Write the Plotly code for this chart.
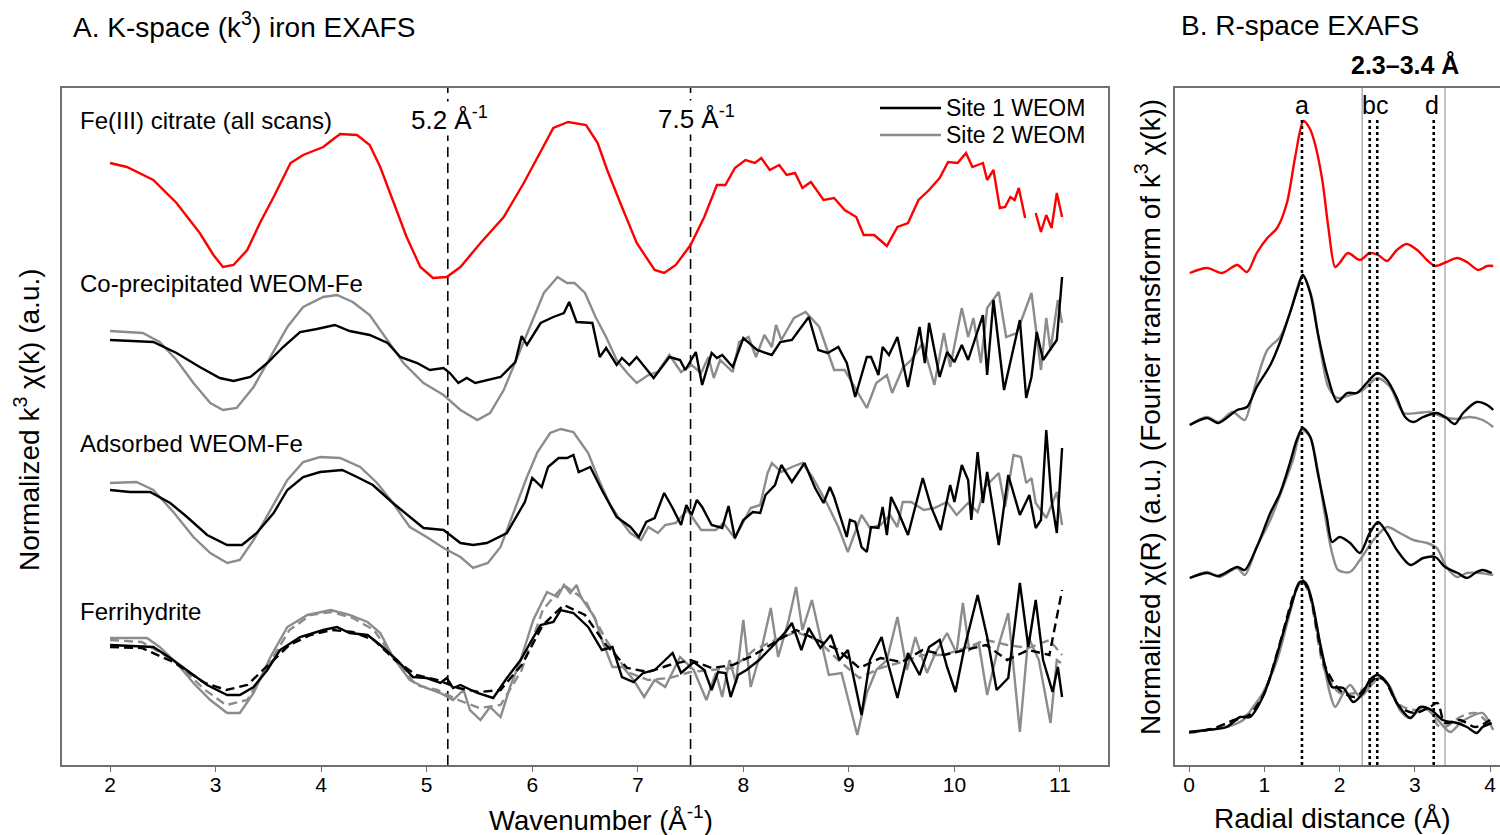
import plotly.graph_objects as go

W, H = 1500, 835
FONT = "Liberation Sans, Arial, sans-serif"

# ---------------- data ----------------
K_TICKS = [2, 3, 4, 5, 6, 7, 8, 9, 10, 11]
R_TICKS = [0, 1, 2, 3, 4]
K_MARKERS = [5.2, 7.5]
K_MARKER_LABELS = ["5.2 Å<sup>-1</sup>", "7.5 Å<sup>-1</sup>"]
R_WINDOW = [2.3, 3.4]
R_PEAKS = [1.5, 2.4, 2.5, 3.25]
R_PEAK_LABELS = ["a", "bc", "d"]
LEGEND_NAMES = ["Site 1 WEOM", "Site 2 WEOM"]

# vertical stacking offsets (a.u.)
OFF_CIT, OFF_COP, OFF_ADS, OFF_FER = 4.80, 3.25, 1.65, 0.0

# --- K-space: Fe(III) citrate ---
cit_k = [2.00, 2.16, 2.41, 2.63, 2.85, 2.98, 3.07, 3.17, 3.30, 3.42, 3.55, 3.71, 3.83, 4.02, 4.08, 4.18, 4.34, 4.46,
         4.56, 4.68, 4.81, 4.94, 5.06, 5.19, 5.32, 5.51, 5.73, 5.92, 6.05, 6.20, 6.34, 6.51, 6.62, 6.71, 6.85, 6.99,
         7.16, 7.25, 7.36, 7.50, 7.63, 7.75, 7.83, 7.92, 8.02, 8.11, 8.17, 8.25, 8.34, 8.41, 8.49, 8.56, 8.64, 8.76,
         8.86, 8.96, 9.07, 9.14, 9.24, 9.36, 9.46, 9.56, 9.66, 9.76, 9.86, 9.94, 10.03, 10.11, 10.17, 10.27, 10.31,
         10.37, 10.43, 10.48, 10.53, 10.57, 10.61, 10.67, None, 10.77, 10.82, 10.87, 10.92, 10.97, 11.02]
cit_chi = [1.22, 1.18, 1.05, 0.82, 0.52, 0.30, 0.18, 0.20, 0.35, 0.62, 0.88, 1.22, 1.30, 1.38, 1.43, 1.51, 1.50, 1.40,
           1.18, 0.85, 0.48, 0.18, 0.07, 0.08, 0.18, 0.42, 0.68, 1.02, 1.28, 1.57, 1.63, 1.60, 1.42, 1.15, 0.78, 0.42,
           0.15, 0.12, 0.20, 0.40, 0.68, 1.00, 1.00, 1.17, 1.25, 1.22, 1.27, 1.15, 1.20, 1.10, 1.12, 0.97, 1.03, 0.85,
           0.87, 0.75, 0.68, 0.50, 0.50, 0.39, 0.58, 0.62, 0.85, 0.95, 1.07, 1.23, 1.22, 1.32, 1.18, 1.22, 1.05,
           1.15, 0.77, 0.78, 0.88, 0.85, 0.97, 0.67, None, 0.72, 0.53, 0.70, 0.57, 0.92, 0.68]

# --- K-space: co-precipitated ---
cop1_k = [2.00, 2.41, 2.63, 2.85, 3.04, 3.17, 3.33, 3.49, 3.64, 3.80, 3.96, 4.13, 4.27, 4.46, 4.63, 4.75, 4.91, 5.03,
          5.16, 5.22, 5.30, 5.38, 5.46, 5.57, 5.70, 5.84, 5.90, 5.95, 6.08, 6.20, 6.30, 6.35, 6.42, 6.57, 6.64, 6.70,
          6.80, 6.85, 6.92, 6.99, 7.15, 7.30, 7.40, 7.45, 7.55, 7.61, 7.70, 7.75, 7.80, 7.90, 8.00, 8.13, 8.27, 8.35,
          8.46, 8.62, 8.71, 8.80, 8.90, 8.98, 9.06, 9.17, 9.21, 9.28, 9.32, 9.38, 9.46, 9.56, 9.67, 9.72, 9.76, 9.86,
          9.93, 10.00, 10.07, 10.13, 10.22, 10.27, 10.31, 10.37, 10.47, 10.62, 10.68, 10.73, 10.78, 10.84, 10.97, 11.02]
cop1_chi = [1.00, 0.98, 0.87, 0.73, 0.62, 0.59, 0.63, 0.77, 0.93, 1.08, 1.11, 1.15, 1.09, 1.05, 0.97, 0.83, 0.77, 0.70,
            0.72, 0.67, 0.57, 0.62, 0.57, 0.60, 0.63, 0.78, 1.04, 0.95, 1.17, 1.23, 1.27, 1.38, 1.18, 1.17, 0.83, 0.92,
            0.75, 0.82, 0.75, 0.83, 0.62, 0.83, 0.80, 0.70, 0.88, 0.55, 0.87, 0.82, 0.85, 0.73, 1.02, 0.90, 0.85, 0.98,
            1.00, 1.23, 0.90, 0.87, 0.93, 0.77, 0.43, 0.83, 0.83, 0.65, 0.93, 0.85, 1.03, 0.53, 1.13, 0.77, 1.17, 0.63,
            0.88, 0.78, 0.95, 0.80, 1.10, 1.25, 0.65, 1.40, 0.50, 1.20, 0.42, 0.63, 1.08, 0.80, 1.00, 1.63]
cop2_k = [2.00, 2.31, 2.47, 2.63, 2.79, 2.95, 3.07, 3.20, 3.36, 3.52, 3.68, 3.83, 4.02, 4.15, 4.30, 4.46, 4.63, 4.78,
          4.97, 5.16, 5.32, 5.48, 5.60, 5.73, 5.86, 5.98, 6.11, 6.24, 6.33, 6.40, 6.50, 6.60, 6.70, 6.80, 6.90, 6.99,
          7.10, 7.19, 7.30, 7.41, 7.51, 7.60, 7.67, 7.72, 7.78, 7.90, 7.96, 8.05, 8.12, 8.20, 8.27, 8.31, 8.36, 8.48,
          8.59, 8.72, 8.86, 8.96, 9.06, 9.17, 9.26, 9.36, 9.41, 9.51, 9.59, 9.70, 9.81, 9.90, 9.96, 10.07, 10.13,
          10.18, 10.25, 10.31, 10.42, 10.49, 10.59, 10.73, 10.82, 10.87, 10.91, 10.98, 11.02]
cop2_chi = [1.09, 1.07, 0.98, 0.80, 0.57, 0.37, 0.30, 0.32, 0.53, 0.83, 1.13, 1.33, 1.43, 1.45, 1.38, 1.25, 1.00, 0.77,
            0.57, 0.45, 0.30, 0.20, 0.27, 0.50, 0.83, 1.13, 1.47, 1.63, 1.57, 1.57, 1.47, 1.23, 1.03, 0.80, 0.67, 0.57,
            0.65, 0.68, 0.85, 0.68, 0.75, 0.67, 0.83, 0.62, 0.80, 0.68, 0.98, 1.03, 0.83, 1.05, 0.93, 1.15, 1.00, 1.22,
            1.28, 1.13, 0.70, 0.70, 0.52, 0.32, 0.57, 0.65, 0.47, 0.72, 0.80, 0.97, 0.55, 1.07, 0.73, 1.32, 1.03,
            1.22, 0.77, 1.32, 1.48, 1.03, 1.07, 1.47, 0.70, 1.22, 0.90, 1.40, 1.17]

# --- K-space: adsorbed ---
ads1_k = [2.00, 2.19, 2.38, 2.57, 2.73, 2.92, 3.11, 3.25, 3.39, 3.55, 3.68, 3.83, 3.99, 4.20, 4.34, 4.49, 4.68, 4.84,
          4.97, 5.16, 5.32, 5.44, 5.57, 5.76, 5.93, 6.00, 6.09, 6.15, 6.25, 6.33, 6.39, 6.44, 6.55, 6.66, 6.80, 6.93,
          7.01, 7.08, 7.16, 7.25, 7.33, 7.41, 7.46, 7.51, 7.56, 7.61, 7.70, 7.80, 7.86, 7.92, 8.00, 8.09, 8.16, 8.21,
          8.30, 8.36, 8.46, 8.58, 8.68, 8.76, 8.82, 8.86, 8.98, 9.01, 9.06, 9.12, 9.17, 9.21, 9.28, 9.32, 9.36, 9.40,
          9.46, 9.56, 9.70, 9.78, 9.87, 9.96, 10.00, 10.07, 10.13, 10.16, 10.22, 10.27, 10.31, 10.42, 10.51, 10.62,
          10.71, 10.77, 10.82, 10.87, 10.92, 10.97, 11.02]
ads1_chi = [1.10, 1.08, 1.08, 0.97, 0.83, 0.65, 0.55, 0.55, 0.67, 0.87, 1.10, 1.23, 1.28, 1.30, 1.23, 1.15, 0.97, 0.83,
            0.72, 0.70, 0.57, 0.55, 0.57, 0.67, 0.98, 1.22, 1.13, 1.33, 1.42, 1.42, 1.45, 1.28, 1.33, 1.10, 0.83, 0.73,
            0.63, 0.78, 0.82, 1.07, 0.92, 0.75, 0.95, 0.85, 1.00, 0.93, 0.75, 0.72, 0.94, 0.62, 0.80, 0.88, 0.87, 1.05,
            1.15, 1.35, 1.18, 1.37, 1.12, 0.97, 1.13, 1.03, 0.63, 0.80, 0.78, 0.53, 0.48, 0.73, 0.72, 0.93, 0.65, 1.03,
            0.90, 0.65, 1.22, 0.93, 0.70, 1.15, 0.98, 1.35, 1.20, 0.80, 1.48, 0.97, 1.28, 0.55, 1.25, 0.85,
            1.05, 0.72, 0.80, 1.70, 1.00, 0.67, 1.52]
ads2_k = [2.00, 2.25, 2.41, 2.60, 2.79, 2.95, 3.11, 3.23, 3.36, 3.52, 3.68, 3.83, 3.99, 4.18, 4.37, 4.53, 4.68, 4.84,
          5.00, 5.16, 5.32, 5.44, 5.58, 5.70, 5.82, 5.95, 6.05, 6.17, 6.27, 6.39, 6.53, 6.64, 6.73, 6.82, 6.93, 7.03,
          7.10, 7.19, 7.26, 7.36, 7.47, 7.60, 7.74, 7.81, 7.92, 8.07, 8.16, 8.23, 8.27, 8.36, 8.46, 8.56, 8.66, 8.80,
          8.90, 8.99, 9.12, 9.20, 9.30, 9.39, 9.46, 9.51, 9.59, 9.71, 9.81, 9.93, 10.02, 10.13, 10.22, 10.29, 10.42,
          10.48, 10.56, 10.63, 10.68, 10.73, 10.77, 10.87, 10.97, 11.02]
ads2_chi = [1.17, 1.18, 1.10, 0.88, 0.63, 0.47, 0.37, 0.40, 0.60, 0.90, 1.20, 1.38, 1.43, 1.42, 1.33, 1.17, 0.97, 0.73,
            0.63, 0.52, 0.43, 0.32, 0.37, 0.53, 0.87, 1.23, 1.48, 1.67, 1.71, 1.68, 1.47, 1.18, 0.97, 0.82, 0.67, 0.60,
            0.73, 0.67, 0.75, 0.77, 0.90, 0.70, 0.70, 0.77, 0.62, 0.92, 0.95, 1.27, 1.37, 1.28, 1.33, 1.37, 1.22, 0.95,
            0.73, 0.48, 0.85, 0.72, 0.75, 0.85, 0.73, 0.98, 0.98, 0.90, 0.92, 0.98, 0.85, 0.97, 0.88, 1.13, 1.27,
            0.93, 1.45, 1.43, 1.17, 1.22, 0.97, 0.82, 1.08, 0.75]

# --- K-space: ferrihydrite (solid = scans set 1, dashed = scans set 2) ---
fer1_k = [2.00, 2.16, 2.41, 2.57, 2.73, 2.92, 3.11, 3.23, 3.36, 3.49, 3.61, 3.80, 4.02, 4.15, 4.27, 4.44, 4.56, 4.72,
          4.87, 5.00, 5.13, 5.19, 5.25, 5.32, 5.48, 5.63, 5.76, 5.89, 5.98, 6.08, 6.20, 6.27, 6.39, 6.53, 6.66, 6.76,
          6.85, 6.96, 7.05, 7.16, 7.26, 7.33, 7.41, 7.53, 7.63, 7.70, 7.76, 7.83, 7.88, 7.95, 8.03, 8.15, 8.27, 8.40,
          8.46, 8.55, 8.62, 8.73, 8.83, 8.91, 8.99, 9.12, 9.20, 9.31, 9.38, 9.46, 9.56, 9.67, 9.76, 9.86, 9.93, 10.01,
          10.09, 10.22, 10.31, 10.40, 10.51, 10.62, 10.70, 10.77, 10.84, 10.93, 10.98, 11.02]
fer1_chi = [1.20, 1.19, 1.18, 1.07, 0.95, 0.80, 0.70, 0.70, 0.78, 0.95, 1.15, 1.28, 1.35, 1.38, 1.32, 1.30, 1.20, 1.05,
            0.88, 0.87, 0.82, 0.87, 0.77, 0.80, 0.72, 0.67, 0.87, 1.05, 1.22, 1.40, 1.43, 1.55, 1.52, 1.38, 1.15, 1.18,
            0.88, 0.83, 0.92, 0.95, 1.05, 1.12, 0.92, 1.03, 0.95, 0.75, 0.93, 0.92, 0.68, 0.90, 0.95, 1.05, 1.18, 1.33,
            1.42, 1.15, 1.37, 1.17, 1.30, 1.05, 1.15, 0.50, 1.05, 1.28, 0.98, 0.67, 1.12, 0.90, 1.18, 1.25, 0.98, 0.73,
            1.15, 1.70, 1.28, 0.75, 0.87, 1.82, 1.18, 1.65, 1.05, 0.73, 0.98, 0.68]
fer2_k = [2.00, 2.35, 2.47, 2.63, 2.79, 2.95, 3.11, 3.23, 3.36, 3.52, 3.68, 3.87, 4.09, 4.27, 4.44, 4.56, 4.68, 4.84,
          4.97, 5.13, 5.25, 5.35, 5.41, 5.51, 5.60, 5.70, 5.79, 5.89, 6.01, 6.14, 6.24, 6.30, 6.36, 6.42, 6.46, 6.59,
          6.66, 6.76, 6.86, 6.96, 7.06, 7.16, 7.26, 7.40, 7.53, 7.65, 7.74, 7.80, 7.87, 7.93, 8.00, 8.07, 8.17, 8.26,
          8.33, 8.43, 8.50, 8.56, 8.65, 8.73, 8.81, 8.93, 9.08, 9.17, 9.26, 9.36, 9.46, 9.55, 9.63, 9.74, 9.82, 9.93,
          10.02, 10.08, 10.14, 10.23, 10.31, 10.42, 10.51, 10.62, 10.70, 10.80, 10.91, 10.97, 11.01]
fer2_chi = [1.27, 1.27, 1.18, 1.02, 0.82, 0.65, 0.52, 0.52, 0.72, 1.08, 1.38, 1.50, 1.55, 1.50, 1.43, 1.32, 1.08, 0.85,
            0.78, 0.72, 0.65, 0.75, 0.55, 0.45, 0.58, 0.48, 0.78, 1.05, 1.45, 1.73, 1.68, 1.80, 1.72, 1.80, 1.68, 1.48,
            1.25, 0.98, 0.98, 0.85, 0.68, 0.85, 0.78, 1.08, 0.95, 0.65, 0.92, 0.68, 1.05, 0.82, 1.45, 0.78, 1.15, 1.57,
            1.08, 1.45, 1.78, 1.35, 1.65, 1.28, 0.90, 0.92, 0.30, 0.72, 0.95, 1.05, 1.48, 0.95, 1.28, 0.92, 1.12, 1.32,
            1.12, 1.62, 1.15, 1.22, 0.70, 1.20, 1.52, 0.33, 1.28, 1.05, 0.42, 1.05, 1.02]
ferd_k = [2.0, 2.3, 2.6, 2.9, 3.1, 3.3, 3.5, 3.7, 3.9, 4.1, 4.3, 4.5, 4.7, 4.9, 5.1, 5.3, 5.5, 5.7, 5.9, 6.1, 6.3, 6.5,
          6.7, 6.9, 7.1, 7.3, 7.5, 7.7, 7.9, 8.1, 8.3, 8.5, 8.7, 8.9, 9.1, 9.3, 9.5, 9.7, 9.9, 10.1, 10.3, 10.5, 10.7,
          10.9, 11.02]
ferd1_chi = [1.18, 1.17, 1.03, 0.82, 0.75, 0.80, 1.00, 1.20, 1.30, 1.35, 1.33, 1.25, 1.05, 0.90, 0.85, 0.77, 0.73, 0.75,
             1.00, 1.40, 1.60, 1.50, 1.20, 0.97, 0.93, 1.00, 1.05, 0.97, 1.00, 1.10, 1.23, 1.35, 1.25, 1.15, 0.97, 1.07,
             1.03, 1.15, 1.10, 1.15, 1.20, 1.05, 1.15, 1.10, 1.75]
ferd2_chi = [1.25, 1.23, 1.05, 0.75, 0.60, 0.65, 1.00, 1.35, 1.50, 1.53, 1.47, 1.35, 1.05, 0.80, 0.75, 0.65, 0.57, 0.60,
             0.95, 1.55, 1.80, 1.65, 1.25, 0.93, 0.85, 0.87, 0.93, 0.95, 0.97, 1.15, 1.25, 1.33, 1.25, 1.05, 0.87, 0.97,
             1.03, 1.10, 1.10, 1.17, 1.25, 1.20, 1.17, 1.25, 1.10]

# --- R-space ---
cit_r = [0.01, 0.24, 0.44, 0.64, 0.77, 0.90, 1.04, 1.17, 1.30, 1.41, 1.52, 1.60, 1.67, 1.77, 1.85, 1.94, 2.00, 2.11,
         2.27, 2.40, 2.51, 2.63, 2.76, 2.89, 3.03, 3.16, 3.27, 3.42, 3.56, 3.69, 3.84, 3.96, 4.04]
cit_ft = [0.12, 0.17, 0.12, 0.20, 0.13, 0.32, 0.47, 0.57, 0.82, 1.28, 1.64, 1.57, 1.42, 1.05, 0.58, 0.18, 0.22, 0.32,
          0.25, 0.32, 0.30, 0.24, 0.35, 0.41, 0.35, 0.25, 0.19, 0.23, 0.27, 0.23, 0.15, 0.19, 0.19]
cop1_r = [0.01, 0.24, 0.39, 0.64, 0.77, 0.90, 1.08, 1.21, 1.34, 1.45, 1.51, 1.61, 1.71, 1.83, 1.97, 2.10, 2.23, 2.36,
          2.50, 2.63, 2.76, 2.87, 2.98, 3.11, 3.29, 3.42, 3.53, 3.64, 3.82, 3.96, 4.04]
cop1_ft = [0.15, 0.22, 0.17, 0.30, 0.33, 0.53, 0.75, 0.98, 1.27, 1.53, 1.65, 1.47, 1.07, 0.67, 0.38, 0.47, 0.47, 0.57,
           0.67, 0.60, 0.42, 0.23, 0.18, 0.23, 0.27, 0.22, 0.16, 0.27, 0.38, 0.35, 0.30]
cop2_r = [0.01, 0.24, 0.39, 0.58, 0.74, 0.85, 1.04, 1.21, 1.34, 1.45, 1.51, 1.63, 1.74, 1.85, 1.97, 2.14, 2.31, 2.50,
          2.67, 2.85, 3.03, 3.20, 3.37, 3.56, 3.73, 3.90, 4.04]
cop2_ft = [0.15, 0.23, 0.18, 0.28, 0.20, 0.47, 0.90, 1.03, 1.27, 1.55, 1.65, 1.43, 0.93, 0.53, 0.42, 0.45, 0.50, 0.62,
           0.53, 0.27, 0.27, 0.28, 0.23, 0.21, 0.23, 0.20, 0.13]
ads1_r = [0.01, 0.24, 0.39, 0.64, 0.74, 0.90, 1.08, 1.21, 1.34, 1.43, 1.51, 1.61, 1.71, 1.83, 1.90, 2.00, 2.14, 2.27,
          2.40, 2.51, 2.63, 2.76, 2.94, 3.11, 3.27, 3.40, 3.57, 3.69, 3.82, 3.90, 4.02]
ads1_ft = [0.22, 0.27, 0.24, 0.33, 0.30, 0.53, 0.87, 1.07, 1.37, 1.60, 1.72, 1.63, 1.27, 0.83, 0.58, 0.63, 0.57, 0.47,
           0.67, 0.78, 0.67, 0.50, 0.35, 0.42, 0.43, 0.33, 0.27, 0.22, 0.28, 0.30, 0.27]
ads2_r = [0.01, 0.24, 0.41, 0.64, 0.74, 0.90, 1.08, 1.25, 1.38, 1.50, 1.61, 1.71, 1.80, 1.90, 1.98, 2.14, 2.27, 2.45,
          2.63, 2.80, 2.98, 3.16, 3.29, 3.42, 3.56, 3.69, 3.86, 4.04]
ads2_ft = [0.22, 0.28, 0.23, 0.32, 0.25, 0.53, 0.80, 1.13, 1.40, 1.70, 1.63, 1.30, 0.87, 0.47, 0.30, 0.28, 0.40, 0.60,
           0.73, 0.67, 0.60, 0.57, 0.52, 0.33, 0.23, 0.27, 0.27, 0.25]
fer1_r = [0.01, 0.24, 0.50, 0.68, 0.81, 0.98, 1.12, 1.25, 1.38, 1.47, 1.54, 1.63, 1.74, 1.83, 1.90, 2.05, 2.18, 2.31,
          2.40, 2.51, 2.63, 2.76, 2.94, 3.07, 3.22, 3.37, 3.56, 3.69, 3.82, 3.90, 4.02]
fer1_ft = [0.33, 0.35, 0.38, 0.48, 0.48, 0.68, 0.98, 1.32, 1.65, 1.83, 1.83, 1.65, 1.22, 0.92, 0.78, 0.77, 0.63, 0.72,
           0.85, 0.90, 0.82, 0.62, 0.47, 0.58, 0.55, 0.45, 0.42, 0.38, 0.32, 0.38, 0.42]
fer2_r = [0.01, 0.24, 0.45, 0.72, 0.85, 0.98, 1.17, 1.34, 1.47, 1.57, 1.67, 1.78, 1.87, 1.94, 2.05, 2.14, 2.27, 2.40,
          2.54, 2.67, 2.80, 2.93, 3.11, 3.27, 3.47, 3.60, 3.73, 3.90, 4.04]
fer2_ft = [0.32, 0.35, 0.37, 0.45, 0.58, 0.72, 1.05, 1.52, 1.83, 1.80, 1.48, 1.05, 0.72, 0.58, 0.72, 0.80, 0.68, 0.78,
           0.88, 0.78, 0.55, 0.47, 0.58, 0.48, 0.33, 0.42, 0.48, 0.52, 0.35]
ferd_r = [0.0, 0.3, 0.6, 0.8, 1.0, 1.2, 1.4, 1.5, 1.6, 1.8, 2.0, 2.2, 2.4, 2.5, 2.6, 2.8, 3.0, 3.2, 3.3, 3.4, 3.6, 3.8,
          4.0]
ferd1_ft = [0.33, 0.36, 0.45, 0.50, 0.72, 1.20, 1.72, 1.85, 1.72, 1.00, 0.75, 0.68, 0.82, 0.88, 0.84, 0.58, 0.52, 0.58,
            0.62, 0.42, 0.45, 0.38, 0.45]
ferd2_ft = [0.32, 0.36, 0.44, 0.52, 0.72, 1.18, 1.70, 1.84, 1.70, 0.95, 0.72, 0.72, 0.80, 0.86, 0.84, 0.60, 0.55, 0.55,
            0.40, 0.38, 0.48, 0.52, 0.40]

# ---------------- styling ----------------
RED = "#ff0000"
BLACK = "#000000"
GRAY = "#8c8c8c"
LW = 2.4
DASH = "9px,5px"


def shift(vals, off):
    return [None if v is None else v + off for v in vals]


def px(x):
    return x / W


def py(y):
    return 1 - y / H


fig = go.Figure()


def add(x, y, off, color, axis, dash="solid", smooth=False):
    fig.add_trace(go.Scatter(
        x=x, y=shift(y, off), mode="lines",
        line=dict(color=color, width=LW, dash=dash, shape="spline" if smooth else "linear",
                  smoothing=0.8 if smooth else None),
        xaxis="x" if axis == 1 else "x2", yaxis="y" if axis == 1 else "y2",
        showlegend=False, hoverinfo="skip"))


# K-space traces
add(cit_k, cit_chi, OFF_CIT, RED, 1)
add(cop2_k, cop2_chi, OFF_COP, GRAY, 1)
add(cop1_k, cop1_chi, OFF_COP, BLACK, 1)
add(ads2_k, ads2_chi, OFF_ADS, GRAY, 1)
add(ads1_k, ads1_chi, OFF_ADS, BLACK, 1)
add(ferd_k, ferd2_chi, OFF_FER, GRAY, 1, dash=DASH)
add(fer2_k, fer2_chi, OFF_FER, GRAY, 1)
add(ferd_k, ferd1_chi, OFF_FER, BLACK, 1, dash=DASH)
add(fer1_k, fer1_chi, OFF_FER, BLACK, 1)

# R-space traces (smooth Fourier transforms)
add(cit_r, cit_ft, OFF_CIT, RED, 2, smooth=True)
add(cop2_r, cop2_ft, OFF_COP, GRAY, 2, smooth=True)
add(cop1_r, cop1_ft, OFF_COP, BLACK, 2, smooth=True)
add(ads2_r, ads2_ft, OFF_ADS, GRAY, 2, smooth=True)
add(ads1_r, ads1_ft, OFF_ADS, BLACK, 2, smooth=True)
add(ferd_r, ferd2_ft, OFF_FER, GRAY, 2, dash=DASH, smooth=True)
add(fer2_r, fer2_ft, OFF_FER, GRAY, 2, smooth=True)
add(ferd_r, ferd1_ft, OFF_FER, BLACK, 2, dash=DASH, smooth=True)
add(fer1_r, fer1_ft, OFF_FER, BLACK, 2, smooth=True)

# ---------------- reference lines ----------------
shapes = []
for k in K_MARKERS:
    shapes.append(dict(type="line", xref="x", yref="paper", x0=k, x1=k, y0=py(765), y1=py(88),
                       line=dict(color=BLACK, width=1.6, dash="10px,6px"), layer="below"))
for r in R_WINDOW:
    shapes.append(dict(type="line", xref="x2", yref="paper", x0=r, x1=r, y0=py(765), y1=py(88),
                       line=dict(color="#b4b4b4", width=1.6), layer="below"))
for r in R_PEAKS:
    shapes.append(dict(type="line", xref="x2", yref="paper", x0=r, x1=r, y0=py(765), y1=py(120),
                       line=dict(color=BLACK, width=2.6, dash="3px,3px"), layer="above"))

# legend samples (drawn by hand to match the reference placement)
for ly, col in [(108, BLACK), (135, GRAY)]:
    shapes.append(dict(type="line", xref="paper", yref="paper", x0=px(880), x1=px(941), y0=py(ly), y1=py(ly),
                       line=dict(color=col, width=2.4)))

# ---------------- text ----------------
anns = []


def ann(text, x, y, size, xanchor="center", yanchor="middle", bold=False, angle=0, bg=None):
    if bold:
        text = "<b>" + text + "</b>"
    anns.append(dict(text=text, x=px(x), y=py(y), xref="paper", yref="paper", showarrow=False,
                     xanchor=xanchor, yanchor=yanchor, textangle=angle,
                     font=dict(size=size, color=BLACK, family=FONT),
                     bgcolor=bg, borderpad=0))


ann("A. K-space (k<sup>3</sup>) iron EXAFS", 72, 25, 28, xanchor="left")
ann("B. R-space EXAFS", 1180, 25, 28, xanchor="left")
ann("Fe(III) citrate (all scans)", 79, 120, 24, xanchor="left")
ann("Co-precipitated WEOM-Fe", 79, 283, 24, xanchor="left")
ann("Adsorbed WEOM-Fe", 79, 443, 24, xanchor="left")
ann("Ferrihydrite", 79, 611, 24, xanchor="left")
ann(LEGEND_NAMES[0], 945, 108, 23, xanchor="left")
ann(LEGEND_NAMES[1], 945, 135, 23, xanchor="left")
ann(K_MARKER_LABELS[0], 449, 119, 26, bg="white")
ann(K_MARKER_LABELS[1], 696, 117, 26, bg="white")
ann("2.3–3.4 Å", 1405, 65, 25, bold=True)
ann(R_PEAK_LABELS[0], 1302, 105, 25)
ann(R_PEAK_LABELS[1], 1375, 105, 25)
ann(R_PEAK_LABELS[2], 1432, 105, 25)
ann("Normalized k<sup>3</sup> χ(k) (a.u.)", 27, 420, 28, angle=-90)
ann("Normalized χ(R) (a.u.) (Fourier transform of k<sup>3</sup> χ(k))", 1148, 417, 28, angle=-90)
ann("Wavenumber (Å<sup>-1</sup>)", 601, 818, 27.5)
ann("Radial distance (Å)", 1332, 818, 28)

AXC = "#707070"
fig.update_layout(
    width=W, height=H,
    margin=dict(l=0, r=0, t=0, b=0),
    paper_bgcolor="white", plot_bgcolor="white",
    font=dict(family=FONT, size=20, color=BLACK),
    showlegend=False,
    xaxis=dict(domain=[px(62), px(1108)], range=[1.545, 11.455], tickvals=K_TICKS,
               ticks="outside", ticklen=5, tickwidth=1.4, tickcolor=AXC, ticklabelstandoff=-5,
               showline=True, linecolor=AXC, linewidth=1.6, mirror=True,
               showgrid=False, zeroline=False, tickfont=dict(size=21, family=FONT)),
    yaxis=dict(domain=[py(765), py(88)], range=[0, 6.77], showticklabels=False, ticks="",
               showline=True, linecolor=AXC, linewidth=1.6, mirror=True,
               showgrid=False, zeroline=False),
    xaxis2=dict(domain=[px(1175), 1.0], range=[-0.186, 4.13], tickvals=R_TICKS, anchor="y2",
                ticks="outside", ticklen=5, tickwidth=1.4, tickcolor=AXC, ticklabelstandoff=-5,
                showline=True, linecolor=AXC, linewidth=1.6, mirror=True,
                showgrid=False, zeroline=False, tickfont=dict(size=21, family=FONT)),
    yaxis2=dict(domain=[py(765), py(88)], range=[0, 6.77], anchor="x2", showticklabels=False, ticks="",
                showline=True, linecolor=AXC, linewidth=1.6, mirror=False,
                showgrid=False, zeroline=False),
    shapes=shapes,
    annotations=anns,
)

fig.write_html("out.html")
